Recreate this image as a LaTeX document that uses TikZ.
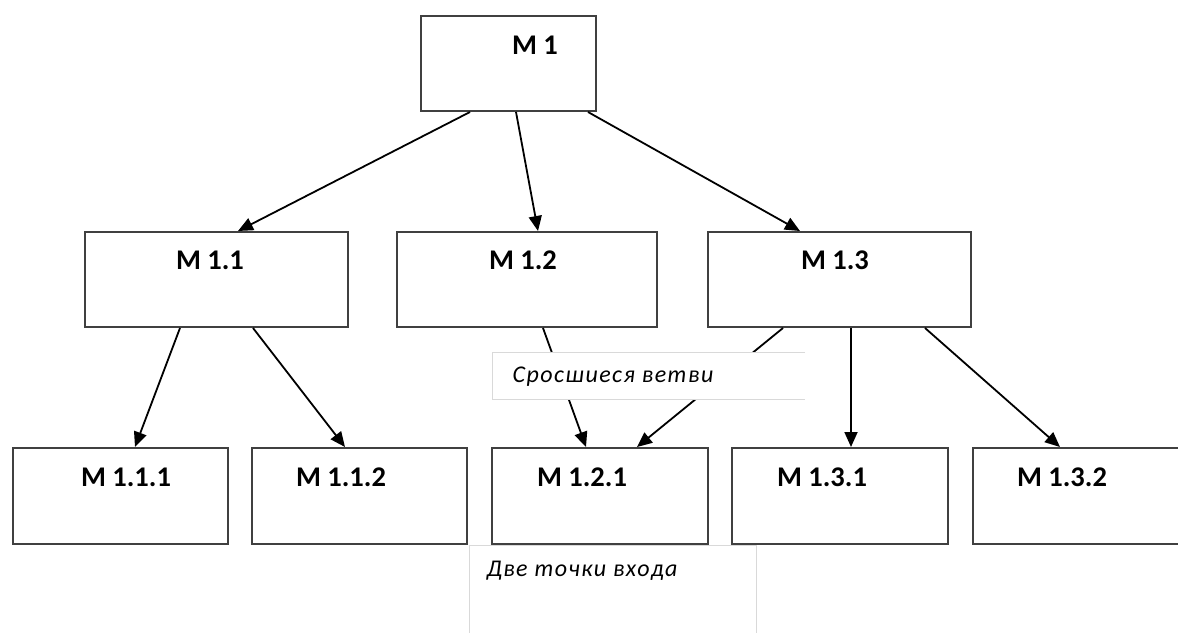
\documentclass[tikz,border=0pt]{standalone}
\usepackage{fontspec}
\setmainfont{Carlito}
\newfontfamily\notefont[LetterSpace=6]{Carlito}
\usetikzlibrary{arrows.meta}
\begin{document}
\begin{tikzpicture}[x=1pt,y=-1pt,
  box/.style={draw=black!75, line width=2pt, fill=white, rectangle, inner sep=0pt},
  lbl/.style={font=\fontsize{28.5}{32}\selectfont\bfseries, text=black, inner sep=0pt},
  note/.style={font=\notefont\fontsize{24}{28}\selectfont\itshape, text=black, inner sep=0pt},
  notebox/.style={draw=black!15, line width=1pt},
  arr/.style={-{Triangle[length=15pt,width=13pt]}, line width=1.8pt, black}]
\useasboundingbox (0,0) rectangle (1178,632);
% boxes
\node[box, minimum width=175pt, minimum height=95pt] (m1) at (508.5,63.5) {};
\node[box, minimum width=263pt, minimum height=95pt] (m11) at (216.5,279.5) {};
\node[box, minimum width=260pt, minimum height=95pt] (m12) at (527,279.5) {};
\node[box, minimum width=263pt, minimum height=95pt] (m13) at (839.5,279.5) {};
\node[box, minimum width=215pt, minimum height=96pt] (m111) at (120.5,496) {};
\node[box, minimum width=215pt, minimum height=96pt] (m112) at (359.5,496) {};
\node[box, minimum width=216pt, minimum height=96pt] (m121) at (600,496) {};
\node[box, minimum width=216pt, minimum height=96pt] (m131) at (840,496) {};
\node[box, minimum width=260pt, minimum height=96pt] (m132) at (1103,496) {};
% labels
\node[lbl] (t1) at (535,45) {M 1};
\node[lbl] (t11) at (210,260) {M 1.1};
\node[lbl] (t12) at (523,260) {M 1.2};
\node[lbl] (t13) at (835,260) {M 1.3};
\node[lbl] (t111) at (126,477) {M 1.1.1};
\node[lbl] (t112) at (341,477) {M 1.1.2};
\node[lbl] (t121) at (582,477) {M 1.2.1};
\node[lbl] (t131) at (822,477) {M 1.3.1};
\node[lbl] (t132) at (1062,477) {M 1.3.2};
% arrows
\draw[arr] (470,0 |- m1.south) -- (238,0 |- m11.north);
\draw[arr] (516,0 |- m1.south) -- (538,0 |- m12.north);
\draw[arr] (588,0 |- m1.south) -- (800,0 |- m13.north);
\draw[arr] (180,0 |- m11.south) -- (135,0 |- m111.north);
\draw[arr] (253,0 |- m11.south) -- (345,0 |- m112.north);
\draw[arr] (543,0 |- m12.south) -- (586,0 |- m121.north);
\draw[arr] (783,0 |- m13.south) -- (637,0 |- m121.north);
\draw[arr] (851,0 |- m13.south) -- (851,0 |- m131.north);
\draw[arr] (925,0 |- m13.south) -- (1060,0 |- m132.north);
% note boxes
\fill[white] (492,352) rectangle (805,399);
\draw[notebox] (805,352) -- (492,352) -- (492,399) -- (805,399);
\node[note] (n1) at (613,377) {Сросшиеся ветви};
\draw[notebox] (469,640) -- (469,545) -- (756,545) -- (756,640);
\node[note] (n2) at (582,571) {Две точки входа};
\end{tikzpicture}
\end{document}
